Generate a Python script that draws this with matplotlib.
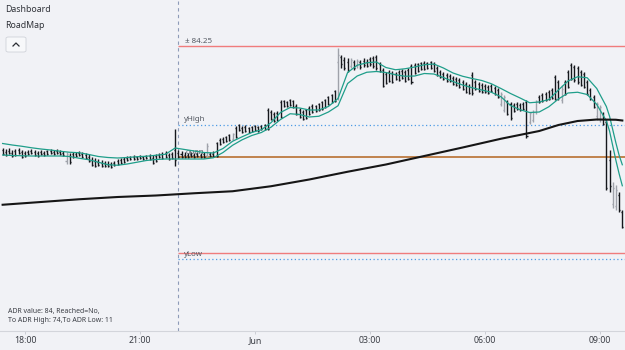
import numpy as np
import pandas as pd
import matplotlib
matplotlib.use('Agg')
import matplotlib.pyplot as plt
import matplotlib.dates as mdates
from matplotlib.patches import FancyBboxPatch
from matplotlib.lines import Line2D
from matplotlib.ticker import FuncFormatter

plt.rcParams['font.family'] = ['Noto Sans', 'DejaVu Sans']

# 5-minute bars, 17:25 -> 09:35
bar_start = '2023-05-31 17:25'

opens = [
    4340.0, 4339.2, 4339.6, 4338.8, 4339.6, 4340.0, 4339.2, 4338.8, 4339.2, 4339.6,
    4339.2, 4338.8, 4339.2, 4338.8, 4339.6, 4339.6, 4339.2, 4339.6, 4339.2, 4338.8,
    4335.6, 4337.6, 4338.4, 4338.4, 4338.8, 4338.4, 4338.0, 4337.2, 4336.0, 4335.6,
    4335.2, 4334.8, 4334.8, 4334.4, 4334.4, 4334.8, 4335.6, 4336.0, 4336.4, 4336.8,
    4337.2, 4337.2, 4337.2, 4337.6, 4337.2, 4337.6, 4337.6, 4336.8, 4337.6, 4338.0,
    4338.4, 4338.8, 4338.0, 4338.4, 4340.0, 4338.8, 4338.4, 4338.0, 4338.0, 4338.4,
    4338.0, 4338.4, 4338.0, 4338.4, 4338.0, 4338.4, 4338.4, 4342.8, 4344.0, 4344.4,
    4345.2, 4346.0, 4344.4, 4348.8, 4350.0, 4348.8, 4349.2, 4348.8, 4349.2, 4349.6,
    4349.2, 4349.6, 4350.0, 4356.0, 4355.2, 4354.4, 4354.8, 4359.2, 4359.6, 4359.2,
    4360.0, 4359.6, 4357.6, 4356.0, 4355.2, 4356.0, 4356.8, 4357.6, 4357.6, 4358.4,
    4359.2, 4360.0, 4361.2, 4362.0, 4363.6, 4375.2, 4377.2, 4376.0, 4375.2, 4373.6,
    4375.2, 4374.0, 4375.2, 4375.6, 4375.2, 4376.4, 4376.8, 4377.2, 4374.4, 4372.0,
    4370.4, 4371.2, 4370.8, 4370.4, 4371.2, 4371.6, 4371.2, 4372.0, 4373.6, 4374.0,
    4374.4, 4374.8, 4374.8, 4374.8, 4375.2, 4374.4, 4372.8, 4371.2, 4370.4, 4370.0,
    4369.6, 4368.8, 4368.4, 4368.0, 4367.2, 4366.4, 4365.6, 4370.0, 4367.2, 4366.4,
    4366.0, 4365.6, 4365.2, 4365.6, 4364.8, 4364.0, 4358.4, 4356.0, 4359.2, 4358.4,
    4358.0, 4358.4, 4358.0, 4358.4, 4359.2, 4351.2, 4352.0, 4355.2, 4361.2, 4362.0,
    4362.4, 4363.2, 4364.0, 4369.2, 4367.2, 4360.0, 4367.2, 4371.2, 4374.0, 4373.2,
    4372.8, 4371.2, 4370.4, 4367.2, 4364.0, 4361.2, 4353.6, 4352.4, 4354.4, 4351.2,
    4336.0, 4318.4, 4317.6, 4322.0, 4315.2]

highs = [
    4340.8, 4340.4, 4340.8, 4340.0, 4340.4, 4340.8, 4340.0, 4339.6, 4340.0, 4340.4,
    4340.0, 4339.6, 4340.0, 4339.6, 4340.0, 4340.4, 4340.0, 4340.4, 4340.0, 4339.6,
    4339.2, 4338.8, 4339.2, 4339.2, 4339.6, 4339.2, 4338.8, 4338.4, 4337.2, 4336.8,
    4336.4, 4336.0, 4335.6, 4335.6, 4335.2, 4335.6, 4336.4, 4336.8, 4337.2, 4337.6,
    4337.6, 4338.0, 4337.6, 4338.0, 4337.6, 4338.0, 4338.4, 4338.0, 4338.4, 4338.8,
    4339.2, 4339.6, 4338.8, 4339.2, 4348.4, 4340.0, 4339.6, 4339.2, 4338.8, 4339.2,
    4338.8, 4339.2, 4338.8, 4339.2, 4342.8, 4339.2, 4339.6, 4343.2, 4344.8, 4345.2,
    4345.6, 4346.4, 4346.8, 4349.6, 4350.4, 4349.6, 4350.0, 4349.2, 4349.6, 4350.0,
    4349.6, 4350.0, 4350.4, 4356.8, 4356.0, 4355.2, 4355.6, 4360.0, 4360.0, 4359.6,
    4360.4, 4360.0, 4358.4, 4356.8, 4356.0, 4356.4, 4357.6, 4358.4, 4358.0, 4358.8,
    4359.6, 4360.4, 4361.6, 4362.4, 4364.0, 4380.8, 4378.0, 4377.2, 4376.8, 4376.8,
    4376.0, 4376.4, 4376.0, 4376.8, 4376.4, 4377.2, 4377.6, 4378.0, 4375.2, 4372.8,
    4371.2, 4372.0, 4371.6, 4371.2, 4372.0, 4372.4, 4372.0, 4372.8, 4374.4, 4374.8,
    4374.8, 4375.2, 4375.6, 4375.2, 4375.6, 4375.2, 4373.6, 4372.0, 4371.2, 4370.8,
    4370.4, 4369.6, 4369.2, 4368.8, 4368.0, 4367.2, 4366.4, 4371.2, 4368.0, 4367.2,
    4366.8, 4366.4, 4366.0, 4366.4, 4365.6, 4364.8, 4363.2, 4362.0, 4360.0, 4359.2,
    4358.8, 4359.2, 4358.8, 4359.2, 4360.0, 4355.2, 4356.0, 4360.0, 4362.0, 4362.8,
    4363.2, 4364.0, 4364.8, 4370.0, 4368.0, 4366.0, 4368.0, 4372.0, 4374.8, 4374.0,
    4373.6, 4372.0, 4371.2, 4368.0, 4364.8, 4362.0, 4359.2, 4358.0, 4355.2, 4352.0,
    4340.0, 4327.2, 4326.0, 4323.2, 4316.0]

lows = [
    4338.0, 4337.6, 4338.4, 4337.2, 4337.6, 4338.4, 4336.8, 4337.2, 4338.0, 4338.4,
    4337.6, 4337.2, 4338.0, 4337.6, 4338.0, 4338.4, 4338.0, 4338.4, 4338.0, 4337.6,
    4334.4, 4334.4, 4336.8, 4337.2, 4337.6, 4336.8, 4336.4, 4335.2, 4333.6, 4333.2,
    4333.6, 4333.2, 4333.2, 4333.2, 4332.8, 4333.6, 4334.0, 4334.4, 4334.8, 4335.6,
    4336.0, 4336.0, 4336.0, 4336.4, 4336.0, 4336.4, 4336.0, 4334.4, 4335.2, 4336.8,
    4336.4, 4336.8, 4336.0, 4336.4, 4333.6, 4336.8, 4336.8, 4336.8, 4336.8, 4337.2,
    4336.8, 4337.2, 4336.8, 4336.8, 4337.2, 4337.2, 4337.2, 4337.2, 4342.0, 4342.8,
    4343.2, 4343.6, 4344.0, 4344.8, 4347.6, 4346.8, 4347.2, 4346.8, 4347.2, 4347.6,
    4347.2, 4348.0, 4348.0, 4348.0, 4352.0, 4351.2, 4351.6, 4352.8, 4357.2, 4357.2,
    4357.6, 4356.8, 4354.0, 4352.8, 4352.0, 4352.4, 4354.0, 4354.8, 4355.2, 4355.6,
    4356.0, 4356.8, 4358.0, 4358.8, 4359.2, 4360.0, 4372.8, 4372.0, 4371.2, 4372.8,
    4372.0, 4372.8, 4372.4, 4373.2, 4373.2, 4373.6, 4372.8, 4372.0, 4371.2, 4365.2,
    4366.4, 4367.2, 4366.8, 4368.0, 4367.6, 4368.4, 4367.2, 4368.0, 4366.4, 4370.4,
    4371.2, 4372.0, 4372.0, 4372.4, 4372.4, 4371.2, 4369.6, 4368.8, 4368.0, 4367.2,
    4367.2, 4366.0, 4365.6, 4364.8, 4364.0, 4362.8, 4362.4, 4362.0, 4364.0, 4363.2,
    4362.8, 4362.8, 4362.4, 4363.2, 4362.0, 4360.8, 4357.6, 4355.2, 4354.0, 4352.0,
    4355.2, 4356.0, 4355.6, 4356.0, 4344.8, 4350.4, 4351.2, 4354.4, 4358.8, 4359.2,
    4359.6, 4360.0, 4360.4, 4360.0, 4360.0, 4358.8, 4362.0, 4364.8, 4368.0, 4367.2,
    4366.4, 4365.6, 4364.8, 4362.0, 4360.0, 4356.8, 4352.0, 4351.2, 4350.0, 4324.0,
    4323.2, 4316.8, 4316.0, 4315.2, 4308.8]

closes = [
    4338.4, 4338.0, 4338.8, 4337.6, 4338.0, 4338.8, 4337.2, 4337.6, 4338.4, 4338.8,
    4338.0, 4337.6, 4338.4, 4338.0, 4338.4, 4338.8, 4338.4, 4338.8, 4338.4, 4338.0,
    4338.4, 4335.2, 4337.2, 4337.6, 4338.0, 4337.2, 4336.8, 4335.6, 4334.0, 4333.6,
    4334.0, 4333.6, 4333.6, 4333.6, 4333.2, 4334.0, 4334.4, 4334.8, 4335.2, 4336.0,
    4336.4, 4336.4, 4336.4, 4336.8, 4336.4, 4336.8, 4336.4, 4334.8, 4335.6, 4337.2,
    4336.8, 4337.2, 4336.4, 4336.8, 4336.0, 4337.2, 4337.2, 4337.2, 4337.2, 4337.6,
    4337.2, 4337.6, 4337.2, 4337.2, 4341.6, 4337.6, 4337.6, 4337.6, 4342.4, 4343.2,
    4343.6, 4344.0, 4346.4, 4345.2, 4348.0, 4347.2, 4347.6, 4347.2, 4347.6, 4348.0,
    4347.6, 4348.4, 4348.4, 4348.4, 4352.4, 4351.6, 4352.0, 4353.2, 4357.6, 4357.6,
    4358.0, 4357.2, 4354.4, 4353.2, 4352.4, 4352.8, 4354.4, 4355.2, 4355.6, 4356.0,
    4356.4, 4357.2, 4358.4, 4359.2, 4359.6, 4378.0, 4374.4, 4372.8, 4372.0, 4376.0,
    4372.8, 4375.6, 4373.2, 4374.0, 4373.6, 4374.4, 4373.6, 4372.8, 4371.6, 4365.6,
    4366.8, 4367.6, 4367.2, 4368.4, 4368.0, 4368.8, 4367.6, 4368.4, 4367.2, 4370.8,
    4371.6, 4372.4, 4372.4, 4372.8, 4372.8, 4371.6, 4370.0, 4369.2, 4368.4, 4367.6,
    4367.6, 4366.4, 4366.0, 4365.2, 4364.4, 4363.2, 4362.8, 4362.8, 4364.4, 4363.6,
    4363.2, 4363.2, 4362.8, 4363.6, 4362.4, 4361.2, 4362.4, 4361.2, 4354.4, 4352.8,
    4355.6, 4356.4, 4356.0, 4356.4, 4345.6, 4354.8, 4355.2, 4359.6, 4359.2, 4359.6,
    4360.0, 4360.4, 4360.8, 4360.4, 4360.8, 4364.4, 4362.4, 4365.2, 4368.4, 4368.0,
    4367.2, 4366.0, 4365.2, 4362.4, 4360.4, 4357.2, 4358.4, 4357.2, 4350.4, 4324.8,
    4325.6, 4324.8, 4324.0, 4316.0, 4309.2]

# teal channel, read every 15 min (bar index) + the last few bars
band_idx = list(range(0, 190, 3)) + [190, 192, 193, 194]
band_upper = [
    4342.6, 4342.0, 4341.5, 4340.9, 4340.4, 4340.0, 4339.5, 4339.1, 4338.9, 4338.2,
    4337.4, 4337.0, 4336.8, 4337.0, 4337.3, 4337.5, 4337.9, 4338.3, 4340.8, 4340.2,
    4339.6, 4339.0, 4338.8, 4340.6, 4343.5, 4345.3, 4347.0, 4348.1, 4350.9, 4355.0,
    4357.0, 4356.8, 4356.0, 4356.0, 4357.4, 4360.6, 4371.0, 4373.9, 4374.9, 4375.2,
    4373.0, 4372.1, 4372.5, 4373.2, 4374.1, 4374.4, 4372.8, 4370.8, 4369.5, 4368.6,
    4367.8, 4366.5, 4364.6, 4362.6, 4360.8, 4358.9, 4359.2, 4360.2, 4364.0, 4367.6,
    4369.3, 4368.9, 4364.6, 4357.4, 4353.5, 4342.8, 4337.9, 4334.1]
band_lower = [
    4338.0, 4337.8, 4337.7, 4337.6, 4337.6, 4337.6, 4337.6, 4337.4, 4336.7, 4336.1,
    4335.1, 4334.1, 4333.9, 4334.4, 4335.1, 4335.8, 4336.2, 4336.4, 4336.4, 4336.4,
    4336.4, 4336.4, 4336.9, 4339.0, 4341.9, 4344.1, 4345.8, 4347.0, 4349.1, 4352.2,
    4354.5, 4354.2, 4353.2, 4353.5, 4355.2, 4357.7, 4366.6, 4369.6, 4371.1, 4371.4,
    4371.0, 4370.1, 4369.5, 4369.6, 4370.6, 4370.4, 4369.0, 4367.4, 4366.0, 4364.9,
    4364.0, 4363.1, 4361.3, 4357.8, 4356.1, 4355.0, 4355.2, 4357.3, 4360.4, 4362.8,
    4363.1, 4362.2, 4358.2, 4351.7, 4347.6, 4335.8, 4330.5, 4325.7]

# slow moving average (black)
ma_idx = [0, 12, 24, 36, 48, 60, 72, 84, 96, 108, 120, 132, 144, 156, 168, 174, 180, 186, 192, 194]
ma_vals = [4318.1, 4319.2, 4320.3, 4321.2, 4321.8, 4322.7, 4323.5, 4325.5, 4328.2, 4331.3,
           4334.2, 4337.6, 4341.0, 4344.5, 4347.6, 4350.0, 4351.6, 4352.2, 4352.1, 4351.8]

# session levels
session_start = '2023-05-31 22:00'
adr_high = 4381.5
adr_low = 4298.75
y_high = 4350.2
y_low = 4296.3
day_open = 4337.3

bg = '#f1f2f6'
times = pd.date_range(bar_start, periods=len(closes), freq='5min')
t = mdates.date2num(times)
o = np.array(opens); h = np.array(highs); l = np.array(lows); c = np.array(closes)

fig = plt.figure(figsize=(6.25, 3.5), dpi=100, facecolor=bg)
ax = fig.add_axes([0, 19/350, 1, 331/350])
ax.set_facecolor(bg)

x0 = mdates.date2num(pd.Timestamp('2023-05-31 17:20:54'))
x1 = mdates.date2num(pd.Timestamp('2023-06-01 09:39:12'))
ts = mdates.date2num(pd.Timestamp(session_start))

# levels
ax.axvline(ts, color='#8e9bb8', lw=0.8, ls=(0, (3, 3)), zorder=1)
ax.hlines(adr_high, ts, x1, color='#f07c7c', lw=1.0, zorder=1)
ax.hlines(adr_low, ts, x1, color='#f07c7c', lw=1.0, zorder=1)
ax.hlines([y_high, y_low], ts, x1, color='#4d9be6', lw=0.9, ls=(0, (1, 2)), zorder=1)
ax.hlines(day_open, ts, x1, color='#b3651f', lw=1.1, zorder=1)

lab = dict(textcoords='offset points', va='center', ha='left', fontsize=5.7, color='#555a63')
ax.annotate('± 84.25', xy=(ts, adr_high), xytext=(5, 3.6), **lab)
ax.annotate('yHigh', xy=(ts, y_high), xytext=(4, 3.3), **lab)
ax.annotate('open', xy=(ts, day_open), xytext=(5, 3.0), **lab)
ax.annotate('yLow', xy=(ts, y_low), xytext=(4, 3.2), **lab)

# OHLC bars
colors = np.where(c > o, '#9fa2aa', '#15171c')
tick = 1.6 / (24 * 60)
ax.vlines(t, l, h, colors=colors, lw=1.0, zorder=2)
ax.hlines(o, t - tick, t, colors=colors, lw=1.0, zorder=2)
ax.hlines(c, t, t + tick, colors=colors, lw=1.0, zorder=2)

# indicators
ax.plot(t[band_idx], band_upper, color='#1f9e8a', lw=0.9, zorder=3)
ax.plot(t[band_idx], band_lower, color='#1f9e8a', lw=0.9, zorder=3)
ax.plot(t[ma_idx], ma_vals, color='#161616', lw=1.5, zorder=3)

ax.set_xlim(x0, x1)
ax.set_ylim(4400 - 331 * 0.4, 4400)

for s in ['top', 'left', 'right']:
    ax.spines[s].set_visible(False)
ax.spines['bottom'].set_color('#d3d5db')
ax.spines['bottom'].set_linewidth(0.8)
ax.set_yticks([])
ax.xaxis.set_major_locator(mdates.HourLocator(byhour=range(0, 24, 3)))
ax.xaxis.set_major_formatter(FuncFormatter(
    lambda v, p: 'Jun' if mdates.num2date(v).hour == 0 else mdates.num2date(v).strftime('%H:%M')))
ax.tick_params(axis='x', length=2.2, width=0.6, color='#c5c8cf', labelsize=6.3,
               labelcolor='#3a3d44', pad=1.5)

# overlay texts
fig.text(5/625, 1 - 9/350, 'Dashboard', fontsize=6.3, color='#2f3238', va='center', ha='left')
fig.text(5/625, 1 - 26/350, 'RoadMap', fontsize=6.3, color='#2f3238', va='center', ha='left')
fig.patches.append(FancyBboxPatch((6/625, 1 - 52/350), 20/625, 15/350,
                                  boxstyle='round,pad=0,rounding_size=0.004',
                                  transform=fig.transFigure, fc='#f7f8fa', ec='#cfd2d9', lw=0.6))
fig.add_artist(Line2D([13/625, 16/625, 19/625], [1 - 46/350, 1 - 43/350, 1 - 46/350],
                      transform=fig.transFigure, color='#2a2d33', lw=0.9))
fig.text(8/625, 1 - 311.5/350, 'ADR value: 84, Reached=No,', fontsize=5, color='#3a3d44', va='center')
fig.text(8/625, 1 - 320/350, 'To ADR High: 74,To ADR Low: 11', fontsize=5, color='#3a3d44', va='center')

fig.savefig('out.png', dpi=100, facecolor=bg)
